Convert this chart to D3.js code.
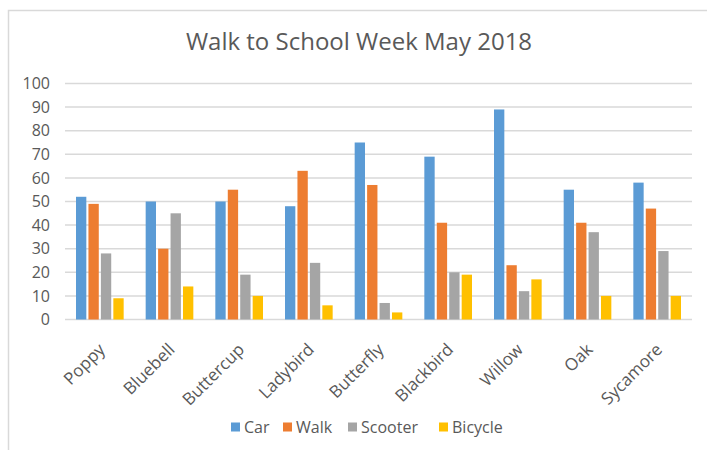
<!DOCTYPE html>
<html>
<head>
<meta charset="utf-8">
<script src="https://cdn.jsdelivr.net/npm/d3@7"></script>
<style>
  body { margin: 0; background: #fff; }
  text { font-family: "Open Sans", sans-serif; fill: #595959; }
</style>
</head>
<body>
<div id="chart"></div>
<script>
const classes = ["Poppy", "Bluebell", "Buttercup", "Ladybird", "Butterfly", "Blackbird", "Willow", "Oak", "Sycamore"];
const modes = ["Car", "Walk", "Scooter", "Bicycle"];
const car = [52, 50, 50, 48, 75, 69, 89, 55, 58];
const walk = [49, 30, 55, 63, 57, 41, 23, 41, 47];
const scooter = [28, 45, 19, 24, 7, 20, 12, 37, 29];
const bicycle = [9, 14, 10, 6, 3, 19, 17, 10, 10];
const yTicks = [0, 10, 20, 30, 40, 50, 60, 70, 80, 90, 100];

const W = 707, H = 450;
const margin = { top: 83.5, right: 15, bottom: 130.5, left: 65 };
const width = W - margin.left - margin.right;
const height = H - margin.top - margin.bottom;

const svg = d3.select('#chart')
  .append('svg')
    .attr('width', W)
    .attr('height', H);

// chart border (runs off the right and bottom of the picture)
svg.append('rect')
  .attr('x', 8.5).attr('y', 10.5)
  .attr('width', W + 10).attr('height', H + 10)
  .attr('fill', 'none')
  .attr('stroke', '#d9d9d9')
  .attr('stroke-width', 1.5);

svg.append('text')
  .attr('x', 359).attr('y', 50)
  .attr('text-anchor', 'middle')
  .style('font-size', '24px')
  .text('Walk to School Week May 2018');

const g = svg.append('g')
  .attr('transform', `translate(${margin.left},${margin.top})`);

const series = { Car: car, Walk: walk, Scooter: scooter, Bicycle: bicycle };
const rows = classes.map((c, i) => ({ cls: c, values: modes.map(m => ({ key: m, value: series[m][i] })) }));

const x = d3.scaleBand().domain(classes).range([0, width]).paddingInner(0).paddingOuter(0);
const xInner = d3.scaleBand().domain(modes).range([11, x.bandwidth() - 11]).paddingInner(0.17);
const y = d3.scaleLinear().domain([0, 100]).range([height, 0]);
const color = d3.scaleOrdinal().domain(modes).range(["#5b9bd5", "#ed7d31", "#a5a5a5", "#ffc000"]);

// gridlines
g.append('g')
  .selectAll('line')
  .data(yTicks)
  .join('line')
    .attr('x1', 0).attr('x2', width)
    .attr('y1', d => y(d)).attr('y2', d => y(d))
    .attr('stroke', '#d9d9d9')
    .attr('stroke-width', 1.5);

// y axis labels
const yAxis = d3.axisLeft(y).tickValues(yTicks).tickSize(0).tickPadding(15);
g.append('g')
  .call(yAxis)
  .call(a => a.select('.domain').remove())
  .selectAll('text')
    .style('font-size', '16px')
    .attr('fill', '#595959');

// bars
g.append('g')
  .selectAll('g')
  .data(rows)
  .join('g')
    .attr('transform', d => `translate(${x(d.cls)},0)`)
  .selectAll('rect')
  .data(d => d.values)
  .join('rect')
    .attr('x', d => xInner(d.key))
    .attr('y', d => y(d.value))
    .attr('width', xInner.bandwidth())
    .attr('height', d => y(0) - y(d.value))
    .attr('fill', d => color(d.key));

// x axis labels, rotated
const xAxis = d3.axisBottom(x).tickSize(0).tickPadding(0);
g.append('g')
  .attr('transform', `translate(0,${height})`)
  .call(xAxis)
  .call(a => a.select('.domain').remove())
  .selectAll('text')
    .style('font-size', '17px')
    .attr('fill', '#595959')
    .attr('text-anchor', 'end')
    .attr('dy', '0.35em')
    .attr('transform', 'translate(2,27) rotate(-45)');

// legend
const legendX = [231, 283, 348, 439];
const legend = svg.append('g')
  .selectAll('g')
  .data(modes)
  .join('g')
    .attr('transform', (d, i) => `translate(${legendX[i]},427)`);
legend.append('rect')
  .attr('x', 0).attr('y', -4.5)
  .attr('width', 9).attr('height', 9)
  .attr('fill', d => color(d));
legend.append('text')
  .attr('x', 13).attr('y', 0)
  .attr('dy', '0.35em')
  .style('font-size', '16px')
  .text(d => d);
</script>
</body>
</html>
